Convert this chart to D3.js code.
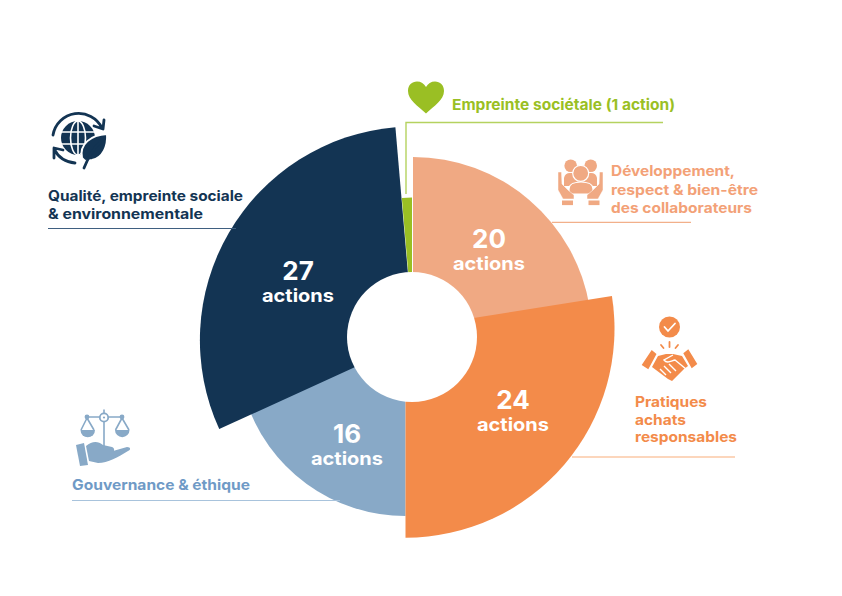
<!DOCTYPE html>
<html lang="fr"><head><meta charset="utf-8">
<script src="https://cdn.jsdelivr.net/npm/d3@7/dist/d3.min.js"></script>
<style>
html,body{margin:0;padding:0;background:#fff}
svg{display:block}
text{font-family:Inter,"Noto Sans",sans-serif;font-weight:700}
</style></head><body>
<svg id="chart" width="842" height="596" viewBox="0 0 842 596"></svg>
<script>
// ---- data ----
const categories = ["Développement, respect & bien-être des collaborateurs","Pratiques achats responsables","Gouvernance & éthique","Qualité, empreinte sociale & environnementale","Empreinte sociétale (1 action)"];
const actions = [20, 24, 16, 27, 1];
// wedge shares as drawn: the thin green wedge is a little wider than its strict share
const arcWeights = [19.8, 24.2, 16, 26.8, 1.2];
const sliceColors = ["#f0a983","#f38b4a","#88a9c7","#133453","#9abf24"];
const unitLabel = "actions";

// ---- layout (each wedge is offset and sized by itself) ----
const origins = [[413,336],[405.5,328.7],[405.5,348],[413.7,340.2],[412,316]];
const radii = [179,209,168,213.8,118.5];
const labelPos = [[489,238],[513,399],[347,433],[298,270],null];
const drawOrder = [2,3,0,1,4];
const underlap = [0,0,0.12,0,0]; // radians a wedge runs on beneath its neighbour
const hole = {x:412,y:337,r:65};

const svg = d3.select("#chart");
const color = d3.scaleOrdinal().domain(categories).range(sliceColors);
const pie = d3.pie().sort(null).value(d=>d.w);
const arcs = pie(categories.map((c,i)=>({c,i,w:arcWeights[i]})));
const arc = d3.arc().innerRadius(0);

svg.append("g").selectAll("path")
  .data(drawOrder.map(i=>arcs[i])).join("path")
  .attr("transform",d=>`translate(${origins[d.data.i]})`)
  .attr("d",d=>arc.outerRadius(radii[d.data.i])({startAngle:d.startAngle,endAngle:d.endAngle+underlap[d.data.i]}))
  .attr("fill",d=>color(d.data.c));

svg.append("circle").attr("cx",hole.x).attr("cy",hole.y).attr("r",hole.r).attr("fill","#fff");

// value labels
const lab = svg.append("g").attr("fill","#fff").attr("text-anchor","middle");
actions.forEach((v,i)=>{
  if(!labelPos[i]) return;
  const [x,y]=labelPos[i];
  lab.append("text").attr("x",x).attr("y",y+9.5).attr("font-size",26).text(v);
  lab.append("text").attr("x",x).attr("y",y+32).attr("font-size",18.5).attr("textLength",72).attr("lengthAdjust","spacingAndGlyphs").text(unitLabel);
});

// leader rules
const rule=(pts,c,w=1.2)=>svg.append("path").attr("d",d3.line()(pts)).attr("fill","none").attr("stroke",c).attr("stroke-width",w);
rule([[406,194],[406,122.5],[663,122.5]],"#b5d25f",1.4);
rule([[552,222.3],[691,222.3]],"#f2b08a");
rule([[572,457],[735,457]],"#fbc9a6",1.3);
rule([[72,500.5],[340,500.5]],"#a8c3dc");
rule([[48,228.5],[236,228.5]],"#3f5f80");

// category labels
const caption=(lines,x,ys,c,size,width)=>{
  lines.forEach((t,i)=>{
    const n=svg.append("text").attr("x",x).attr("y",ys[i]).attr("fill",c).attr("font-size",size).text(t);
    if(width&&width[i]) n.attr("textLength",width[i]).attr("lengthAdjust","spacingAndGlyphs");
  });
};
caption(["Empreinte sociétale (1 action)"],452,[110],"#9abf24",15,[223]);
caption(["Développement,","respect & bien-être","des collaborateurs"],611,[176,195,212.5],"#f3a177",14,[124,147,141]);
caption(["Qualité, empreinte sociale","& environnementale"],48,[201,219],"#133453",14,[195,155]);
caption(["Pratiques","achats","responsables"],635,[407,425,442],"#f38b4a",14,[72,51,102]);
caption(["Gouvernance & éthique"],72,[490],"#6f9ac6",14.5,[178]);

// ---- icons ----
const icon=c=>svg.append("g").attr("fill",c).attr("stroke","none");

// heart
icon("#9abf24").append("path").attr("d","M426 113.5 C418 106 408 100 408 91 C408 85 412 81.5 417 81.5 C421 81.5 424 83.5 426 87 C428 83.5 431 81.5 435 81.5 C440 81.5 444 85 444 91 C444 100 434 106 426 113.5Z");

// globe + leaf
const g=icon("#133453").attr("transform","translate(78,138)");
g.append("circle").attr("r",17);
const gl=g.append("g").attr("fill","none").attr("stroke","#fff").attr("stroke-width",1.6);
gl.append("ellipse").attr("rx",7.5).attr("ry",17);
gl.append("path").attr("d","M-17 -6H17M-17 6H17M0 -17V17");
const gr=g.append("g").attr("fill","none").attr("stroke","#133453").attr("stroke-width",2.8).attr("stroke-linecap","round").attr("stroke-linejoin","round");
gr.append("path").attr("d","M-25 -3 A26 26 0 0 1 24 -10 M16 -12 L25 -9 L26 -18");
gr.append("path").attr("d","M-24 11 A26 26 0 0 0 -3 25 M-24 20 L-24 10 L-15 12");
g.append("path").attr("d","M29 -4 C13 -3 1 6 4 20 L7 23 L14 22 C25 20 30 8 29 -4Z").attr("stroke","#fff").attr("stroke-width",2);
g.append("path").attr("d","M22 4 C14 12 10 20 6 30").attr("fill","none").attr("stroke","#133453").attr("stroke-width",2.8).attr("stroke-linecap","round");

// people in hands
const p=icon("#f0a983");
[[570.7,165.7,6.3],[590.7,165.7,6.3]].forEach(c=>p.append("circle").attr("cx",c[0]).attr("cy",c[1]).attr("r",c[2]));
p.append("path").attr("d","M564 178 Q565 173 570 173 L591 173 Q596 173 597 178 L597 186 L564 186Z");
p.append("circle").attr("cx",580.7).attr("cy",173.3).attr("r",8).attr("stroke","#fff").attr("stroke-width",1.2);
p.append("path").attr("d","M569 194 V189 C569 184 575 182 581 182 C587 182 593 184 593 189 V194Z").attr("stroke","#fff").attr("stroke-width",1.2);
p.append("path").attr("d","M558 172 L561.5 172 L562 184 L568 190 L574 195 L574 199 L563 199 L558 190Z").attr("stroke","#fff").attr("stroke-width",.5);
p.append("path").attr("d","M603 172 L599.5 172 L599 184 L593 190 L587 195 L587 199 L598 199 L603 190Z").attr("stroke","#fff").attr("stroke-width",.5);
p.append("rect").attr("x",562).attr("y",200.5).attr("width",11).attr("height",4.6);
p.append("rect").attr("x",588.5).attr("y",200.5).attr("width",11).attr("height",4.6);

// check + handshake
const h=icon("#f38b4a");
h.append("circle").attr("cx",669.5).attr("cy",327).attr("r",10.5);
h.append("path").attr("d","M664.5 327 L668 331 L675 323.5").attr("fill","none").attr("stroke","#fff").attr("stroke-width",1.8).attr("stroke-linecap","round");
h.append("path").attr("d","M669.5 342 V347 M661 345 L663.5 348 M678 345 L675.5 348").attr("stroke","#f38b4a").attr("stroke-width",1.8).attr("stroke-linecap","round");
h.append("path").attr("d","M651.7 350 L641.7 365 L648.3 369.3 L656.5 354Z M688.3 349.3 L697.3 364 L691.7 368.3 L683.3 353.3Z");
h.append("path").attr("d","M658 356 L666 354 L673 354 L682 356 L688 366 L684 369 L672 381 L668 379 L652 367Z");
h.append("path").attr("d","M673 355 L664 360 C667 364 671 361 675 360 L686 369 M660 369 L666 375 M664 366 L671 373 M669 364 L676 371").attr("fill","none").attr("stroke","#fff").attr("stroke-width",1.4);

// scales + hand
const s=icon("#88a9c7");
s.append("path").attr("d","M104 409.5 V449 M87 417 H122 M87 418 L81 430 M87 418 L94 430 M122 418 L115.5 430 M122 418 L129 430").attr("fill","none").attr("stroke","#88a9c7").attr("stroke-width",1.6);
s.append("circle").attr("cx",87).attr("cy",417).attr("r",2.4);
s.append("circle").attr("cx",122).attr("cy",417).attr("r",2.4);
s.append("circle").attr("cx",104).attr("cy",417.5).attr("r",4.2).attr("fill","#fff").attr("stroke","#88a9c7").attr("stroke-width",1.8);
s.append("circle").attr("cx",104).attr("cy",417.5).attr("r",1.1);
s.append("path").attr("d","M80.5 430 H95 A7.2 7.2 0 0 1 80.5 430Z");
s.append("path").attr("d","M115 430 H129.5 A7.2 7.2 0 0 1 115 430Z");
s.append("path").attr("d","M76 445 L84 443 L88 465 L80 466Z");
s.append("path").attr("d","M86 446 C92 441 98 441 103 445 L112 447 C115 448 115 452 111 452 L101 452 L113 451 L127 447 C131 447 131 450 128 451 C118 457 108 463 98 463 L89 461Z");
</script>
</body></html>
